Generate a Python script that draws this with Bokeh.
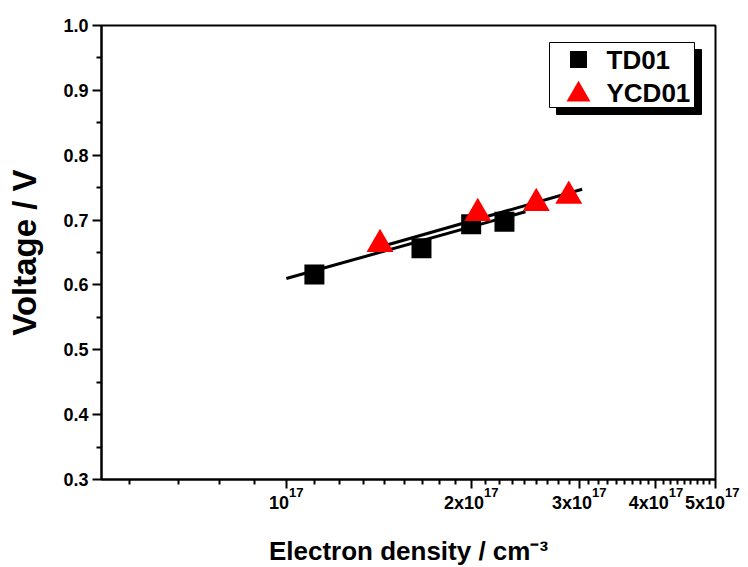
import numpy as np
from bokeh.plotting import figure
from bokeh.models import FixedTicker, Range1d, LogAxis, LinearAxis
from bokeh.core.properties import value
from bokeh.embed import file_html
from bokeh.resources import INLINE

# ---- data ----
td01_x = [1.111e17, 1.66e17, 2.00e17, 2.266e17]
td01_y = [0.616, 0.6565, 0.6935, 0.6975]
ycd01_x = [1.421e17, 2.05e17, 2.553e17, 2.884e17]
ycd01_y = [0.6627, 0.7105, 0.7259, 0.7371]
fit_td01_x = [1.0e17, 2.452e17]
fit_td01_y = [0.610, 0.7129]
fit_ycd01_x = [1.379e17, 3.033e17]
fit_ycd01_y = [0.655, 0.7475]
x_major = [1e17, 2e17, 3e17, 4e17, 5e17]
x_label_base = ["10", "2x10", "3x10", "4x10", "5x10"]
x_label_exp = ["17", "17", "17", "17", "17"]
y_major = [0.3, 0.4, 0.5, 0.6, 0.7, 0.8, 0.9, 1.0]
y_labels = ["0.3", "0.4", "0.5", "0.6", "0.7", "0.8", "0.9", "1.0"]
legend_labels = ["TD01", "YCD01"]

# ---- layout constants ----
FONT = "Liberation Sans"
X0, X1 = 5e16, 5e17
Y0, Y1 = 0.3, 1.0
FL, FT, FW, FH = 101, 25, 614, 454   # frame in canvas px
W, H = 740, 551
BASE_PX, EXP_PX = 18, 13
EMSP = "\u2003"

x_minor = [k * 1e17 / 9 for k in range(5, 46) if k % 9 != 0]
y_minor = [0.35, 0.45, 0.55, 0.65, 0.75, 0.85, 0.95]

p = figure(x_axis_type="log", x_range=Range1d(X0, X1), y_range=Range1d(Y0, Y1),
           frame_width=FW, frame_height=FH,
           min_border_left=FL, min_border_right=W - FL - FW,
           min_border_top=FT, min_border_bottom=H - FT - FH,
           output_backend="svg", toolbar_location=None,
           background_fill_color="white", border_fill_color="white")
p.grid.visible = False
p.outline_line_color = "black"
p.outline_line_width = 2


def style(ax):
    ax.axis_line_width = 2
    ax.major_tick_line_width = 2
    ax.minor_tick_line_width = 2
    ax.major_tick_out = 9
    ax.major_tick_in = 0
    ax.minor_tick_out = 5
    ax.minor_tick_in = 0
    ax.major_label_text_font = FONT
    ax.major_label_text_font_style = "bold"
    ax.major_label_text_color = "black"


def bare(ax):
    ax.axis_line_color = None
    ax.major_tick_line_color = None
    ax.minor_tick_line_color = None
    ax.major_tick_out = 0
    ax.major_tick_in = 0
    ax.minor_tick_out = 0
    ax.minor_tick_in = 0
    ax.major_label_text_font = FONT
    ax.major_label_text_font_style = "bold"
    ax.major_label_text_color = "black"
    ax.axis_label_text_font = FONT
    ax.axis_label_text_font_style = "bold"
    ax.axis_label_text_color = "black"


# main x axis: line and ticks only
xa = p.xaxis[0]
style(xa)
xa.ticker = FixedTicker(ticks=x_major, minor_ticks=x_minor)
xa.major_label_overrides = {t: "" for t in x_major}
xa.major_label_text_font_size = "1px"
xa.major_label_standoff = 0

# tick-label placement: "base" + raised "exponent", whole label centred on its tick
base_pos, exp_pos, exp_txt = [], [], []
right_px = FL + FW - 2
for t, b, e in zip(x_major, x_label_base, x_label_exp):
    bw = len(b) * 0.556 * BASE_PX
    ew = len(e) * 0.556 * EXP_PX
    tpx = FL + FW * (np.log10(t) - np.log10(X0)) / (np.log10(X1) - np.log10(X0))
    left = min(tpx - (bw + ew) / 2, W - 1 - (bw + ew))
    bc = left + bw / 2
    ec = left + bw + ew / 2
    txt = e
    # an exponent beyond the frame edge: pad it on the left with em spaces
    k = 0
    while ec - k * EXP_PX / 2 > right_px:
        k += 1
    if k:
        txt = EMSP * k + e
        ec -= k * EXP_PX / 2
    base_pos.append(t * 10 ** ((bc - tpx) / FW))
    exp_pos.append(t * 10 ** ((ec - tpx) / FW))
    exp_txt.append(txt)

exp_ax = LogAxis(ticker=FixedTicker(ticks=exp_pos, minor_ticks=[]))
bare(exp_ax)
exp_ax.major_label_overrides = {v: s for v, s in zip(exp_pos, exp_txt)}
exp_ax.major_label_text_font_size = f"{EXP_PX}px"
exp_ax.major_label_standoff = -4
p.add_layout(exp_ax, "below")

base_ax = LogAxis(ticker=FixedTicker(ticks=base_pos, minor_ticks=[]))
bare(base_ax)
base_ax.major_label_overrides = {v: b for v, b in zip(base_pos, x_label_base)}
base_ax.major_label_text_font_size = f"{BASE_PX}px"
base_ax.major_label_standoff = -10
base_ax.axis_label = "Electron density / cm\u207b\u00b3"
base_ax.axis_label_text_font_size = "26px"
base_ax.axis_label_standoff = 20
p.add_layout(base_ax, "below")

# y axis
ya = p.yaxis[0]
style(ya)
ya.ticker = FixedTicker(ticks=y_major, minor_ticks=y_minor)
ya.major_label_overrides = {t: l for t, l in zip(y_major, y_labels)}
ya.major_label_text_font_size = "18px"
ya.major_label_standoff = 4

ytitle_ax = LinearAxis(ticker=FixedTicker(ticks=[], minor_ticks=[]))
bare(ytitle_ax)
ytitle_ax.axis_label = "Voltage / V"
ytitle_ax.axis_label_text_font_size = "33px"
ytitle_ax.axis_label_standoff = 18
p.add_layout(ytitle_ax, "left")


def dx(px):
    return 10 ** (np.log10(X0) + (px - FL) / FW * (np.log10(X1) - np.log10(X0)))


def dy(py):
    return Y1 - (py - FT) / FH * (Y1 - Y0)


# ---- fit lines and points ----
p.line(fit_td01_x, fit_td01_y, line_color="black", line_width=3)
p.line(fit_ycd01_x, fit_ycd01_y, line_color="black", line_width=3)
p.scatter(td01_x, td01_y, marker="square", size=20, fill_color="black", line_color="black", line_width=0)
p.scatter(ycd01_x, ycd01_y, marker="triangle", size=27, fill_color="red", line_color="red", line_width=0)

# ---- hand-made legend with shadow ----
p.quad(left=[dx(556)], right=[dx(701)], top=[dy(49)], bottom=[dy(114)],
       fill_color="black", line_color="black")
p.quad(left=[dx(549)], right=[dx(694)], top=[dy(42)], bottom=[dy(107)],
       fill_color="white", line_color="black", line_width=1)
p.scatter([dx(578)], [dy(59)], marker="square", size=17, fill_color="black", line_width=0)
p.scatter([dx(578)], [dy(94)], marker="triangle", size=24, fill_color="red", line_width=0)
p.text([dx(606), dx(606)], [dy(59), dy(92)], text=legend_labels,
       text_font=value(FONT), text_font_style="bold", text_font_size="26px",
       text_align="left", text_baseline="middle", text_color="black")

open("out.html", "w").write(file_html(p, INLINE))
